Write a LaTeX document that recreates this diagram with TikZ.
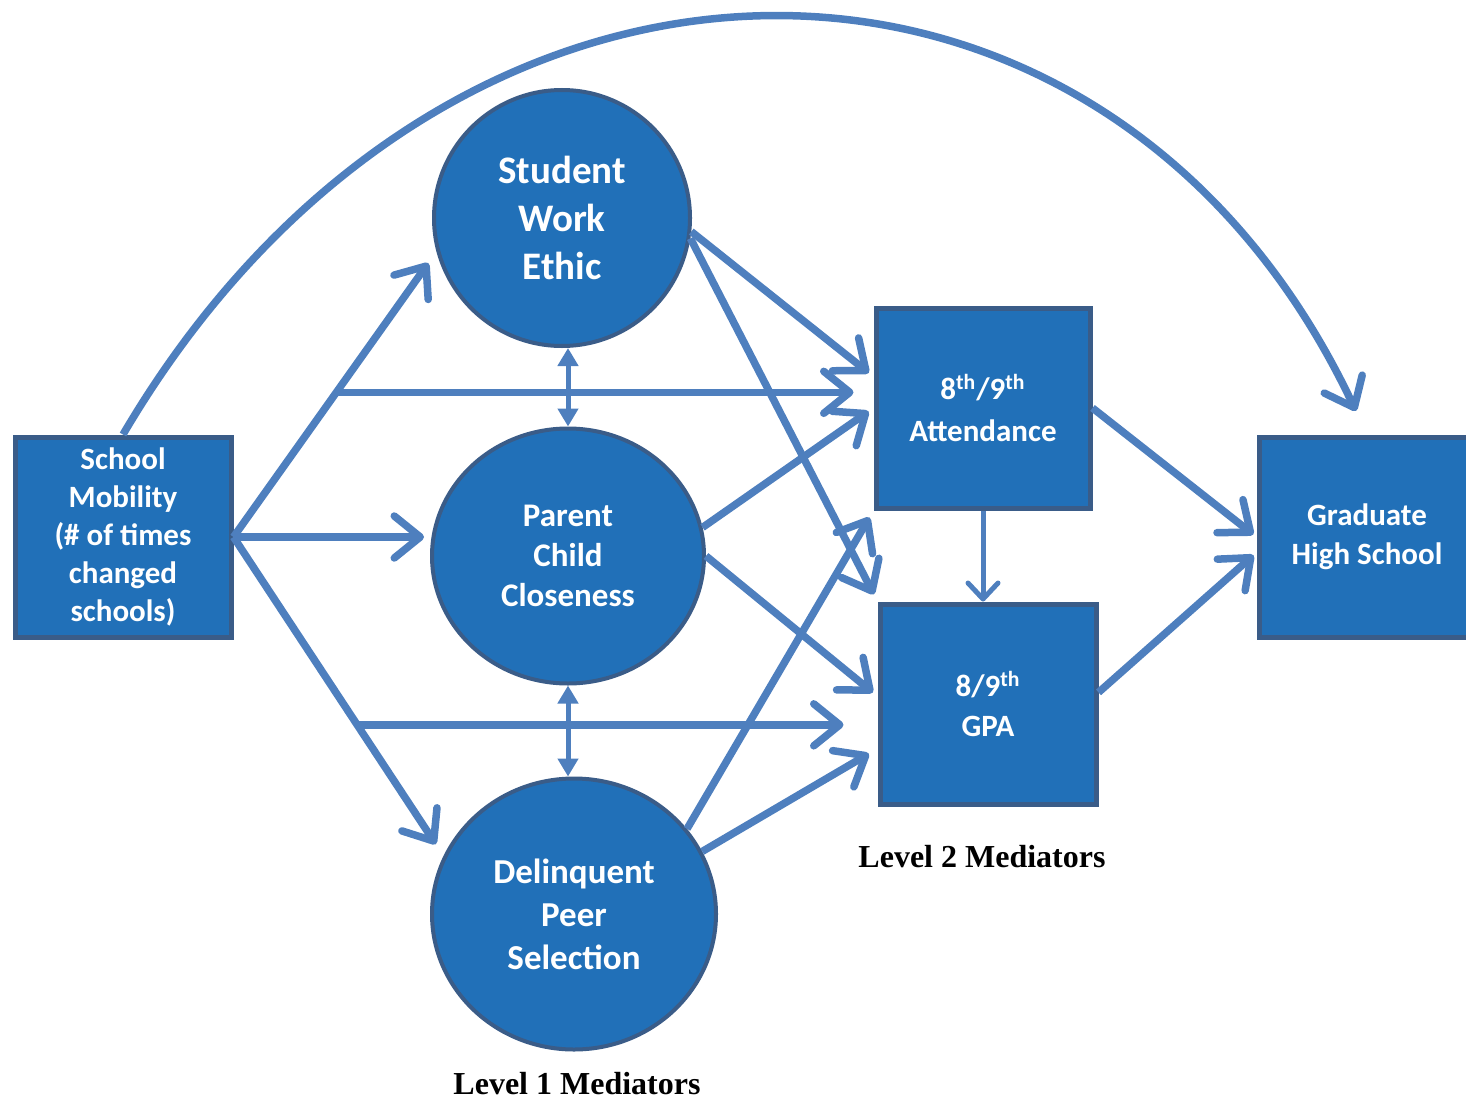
\documentclass[tikz,border=0pt]{standalone}
\usepackage{fontspec}
\setmainfont{Carlito}
\newfontfamily\timesbold{Liberation Serif}
\usetikzlibrary{arrows.meta,shapes.geometric,calc}
\definecolor{nodefill}{HTML}{2170B8}
\definecolor{nodeedge}{HTML}{3A5C88}
\definecolor{arrowblue}{HTML}{4E7FBE}
\tikzset{
  box/.style={rectangle,draw=nodeedge,fill=nodefill,line width=2.5pt,text=white,align=center,
    minimum width=108pt,minimum height=100pt,inner sep=0pt},
  ball/.style={ellipse,draw=nodeedge,fill=nodefill,line width=2pt,text=white,align=center,inner sep=0pt},
  pathway/.style={arrowblue,line width=3.75pt,-{Straight Barb[length=13pt,width=21pt,round]}},
  thinpath/.style={arrowblue,line width=2.5pt,-{Straight Barb[length=8pt,width=15pt,round]}},
  twoway/.style={arrowblue,line width=2.5pt,{Triangle[length=9pt,width=10pt]}-{Triangle[length=9pt,width=10pt]}},
  tierlabel/.style={font=\timesbold\bfseries\fontsize{16}{19}\selectfont}
}
\begin{document}
\begin{tikzpicture}[x=0.5pt,y=-0.5pt]
\useasboundingbox (0,0) rectangle (1466,1102);
% variables
\node[box,font=\bfseries\fontsize{15.5}{19}\selectfont](mob)at(123,537){School\\Mobility\\(\# of times\\changed\\schools)};
\node[ball,minimum width=128pt,minimum height=128pt,font=\bfseries\fontsize{19.5}{24}\selectfont](ethic)at(562,218){Student\\Work\\Ethic};
\node[ball,minimum width=136pt,minimum height=127.5pt,font=\bfseries\fontsize{16.5}{20}\selectfont](pcc)at(568,556){Parent\\Child\\Closeness};
\node[ball,minimum width=142pt,minimum height=135.5pt,font=\bfseries\fontsize{17.5}{21.5}\selectfont](dps)at(574,914){Delinquent\\Peer\\Selection};
\node[box,minimum width=107pt,font=\bfseries\fontsize{15.5}{21}\selectfont](att)at(983,408){8\textsuperscript{th}/9\textsuperscript{th}\\Attendance};
\node[box,font=\bfseries\fontsize{15.5}{20}\selectfont](gpa)at(988,704){8/9\textsuperscript{th}\\GPA};
\node[box,font=\bfseries\fontsize{15.5}{19.5}\selectfont](grad)at(1367,537){Graduate\\High School};
\node[tierlabel](lev2)at(982,857){Level 2 Mediators};
\node[tierlabel](lev1)at(577,1084){Level 1 Mediators};
% branch points
\coordinate(b1)at($(mob.east)!0.507!(ethic.195)$);
\coordinate(b2)at($(mob.east)!0.589!(dps.156)$);
% paths
\draw[pathway,shorten >=13pt](mob.north) .. controls +(327,-556) and +(-260,-551) .. (grad.north);
\draw[pathway,shorten >=7pt](mob.east)--(ethic.195);
\draw[pathway,shorten >=3pt](mob.east)--(mob.east-|pcc.west);
\draw[pathway,shorten >=7pt](mob.east)--(dps.156);
\draw[pathway,shorten >=10pt](b1)--(b1-|att.west);
\draw[pathway,shorten >=17pt](b2)--(b2-|gpa.west);
\draw[pathway,shorten >=3pt](ethic.-6)--(att.164);
\draw[pathway,shorten >=4pt](ethic.-9)--(gpa.north west);
\draw[pathway,shorten >=3pt](pcc.12)--(att.west);
\draw[pathway,shorten >=3pt](pcc.east)--(gpa.176);
\draw[pathway,shorten >=4pt](dps.37)--(att.south west);
\draw[pathway,shorten >=5pt](dps.26)--(gpa.202);
\draw[pathway,shorten >=2pt](att.east)--(grad.west);
\draw[pathway,shorten >=2pt](gpa.6)--(grad.188);
\draw[thinpath](att.south)--(att.south|-gpa.north);
\draw[twoway](pcc.north)--(pcc.north|-ethic.south);
\draw[twoway](pcc.south)--(pcc.south|-dps.north);
\end{tikzpicture}
\end{document}
